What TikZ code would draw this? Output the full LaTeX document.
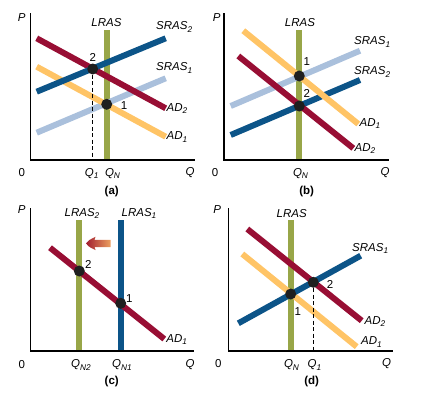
\documentclass[tikz,border=0pt]{standalone}
\usepackage{fontspec}
\setmainfont{Liberation Sans}
\usetikzlibrary{arrows.meta}
\definecolor{lrasg}{RGB}{152,166,72}
\definecolor{dblue}{RGB}{12,84,136}
\definecolor{lblue}{RGB}{170,192,220}
\definecolor{dred}{RGB}{152,14,52}
\definecolor{yel}{RGB}{255,196,102}
\definecolor{arrR}{RGB}{162,30,48}
\definecolor{arrO}{RGB}{236,160,96}
\newcommand{\lsub}[1]{\raisebox{-0.4ex}{\fontsize{8.3}{9}\selectfont #1}}
\tikzset{
  curve/.style={line width=6pt},
  axisline/.style={line width=1.2pt, black},
  eqdot/.style={circle, fill=black!88, minimum size=11pt, inner sep=0pt},
  lab/.style={font=\fontsize{11.5}{13}\selectfont\itshape, inner sep=0pt},
  num/.style={font=\fontsize{11.5}{13}\selectfont, inner sep=0pt},
  paneltitle/.style={font=\fontsize{11.5}{13}\selectfont\bfseries, inner sep=0pt},
  guide/.style={line width=0.8pt, dash pattern=on 4pt off 2.5pt}
}
\begin{document}
\begin{tikzpicture}[x=1pt,y=-1pt]
\useasboundingbox (0,0) rectangle (435,396);
% ================= (a) =================
\coordinate (aT) at (30.7,13.3); \coordinate (aO) at (30.7,160); \coordinate (aR) at (195,160);
\draw[curve, lrasg] (106.7,30) coordinate (aL1) -- (106.7,160) coordinate (aL2);
\draw[curve, lblue] (36.7,132.7) coordinate (aS1a) -- (165.7,78.3) coordinate (aS1b);
\draw[curve, yel] (36.7,66.7) coordinate (aD1a) -- (165.7,136.7) coordinate (aD1b);
\draw[curve, dred] (36.7,38.3) coordinate (aD2a) -- (165.7,108.3) coordinate (aD2b);
\draw[curve, dblue] (36.7,91.7) coordinate (aS2a) -- (165.7,38.3) coordinate (aS2b);
\draw[axisline] (aT) -- (aO) -- (aR);
\node[eqdot] (a2) at (92.7,69) {};
\node[eqdot] (a1) at (106.7,104.3) {};
\coordinate (aQ1) at (92.7,160);
\draw[guide] (a2) -- (aQ1);
\node[lab] (aP) at (21.7,18) {P};
\node[lab] (aLR) at (106.5,22.7) {LRAS};
\node[lab, anchor=west] (aS2l) at (156,27) {SRAS\lsub{2}};
\node[lab, anchor=west] (aS1l) at (156,68) {SRAS\lsub{1}};
\node[lab, anchor=west] (aD2l) at (166.5,108.5) {AD\lsub{2}};
\node[lab, anchor=west] (aD1l) at (166.5,137) {AD\lsub{1}};
\node[num] (a2n) at (92.7,57) {2};
\node[num] (a1n) at (124,105.5) {1};
\node[num] (a0) at (21.7,173) {0};
\node[lab] (aq1) at (91.7,173.5) {Q\lsub{1}};
\node[lab] (aqn) at (112.5,173.5) {Q\lsub{N}};
\node[lab] (aq) at (190,173) {Q};
\node[paneltitle] (acap) at (111.7,191.7) {(a)};
% ================= (b) =================
\coordinate (bT) at (224,13.3); \coordinate (bO) at (224,160); \coordinate (bR) at (389,160);
\draw[curve, lrasg] (299.3,30) coordinate (bL1) -- (299.3,160) coordinate (bL2);
\draw[curve, lblue] (230.7,106) coordinate (bS1a) -- (360,50.7) coordinate (bS1b);
\draw[curve, dblue] (230.7,135) coordinate (bS2a) -- (360,80) coordinate (bS2b);
\draw[curve, yel] (243.3,30.7) coordinate (bD1a) -- (358.3,124) coordinate (bD1b);
\draw[curve, dred] (238.3,56) coordinate (bD2a) -- (353.3,148.3) coordinate (bD2b);
\draw[axisline] (bT) -- (bO) -- (bR);
\node[eqdot] (b1) at (299.3,76) {};
\node[eqdot] (b2) at (299.3,106) {};
\node[lab] (bP) at (216.7,18) {P};
\node[lab] (bLR) at (300,22.7) {LRAS};
\node[lab, anchor=west] (bS1l) at (354,42) {SRAS\lsub{1}};
\node[lab, anchor=west] (bS2l) at (354,72) {SRAS\lsub{2}};
\node[lab, anchor=west] (bD1l) at (359.5,123.5) {AD\lsub{1}};
\node[lab, anchor=west] (bD2l) at (354.5,148.5) {AD\lsub{2}};
\node[num] (b1n) at (306.7,61.7) {1};
\node[num] (b2n) at (306.7,93.3) {2};
\node[num] (b0) at (215,173) {0};
\node[lab] (bqn) at (300.5,173.5) {Q\lsub{N}};
\node[lab] (bq) at (385,173) {Q};
\node[paneltitle] (bcap) at (306.7,191.7) {(b)};
% ================= (c) =================
\coordinate (cT) at (30.7,208.3); \coordinate (cO) at (30.7,351); \coordinate (cR) at (194.3,351);
\draw[curve, lrasg] (79.3,220) coordinate (cL2a) -- (79.3,351) coordinate (cL2b);
\draw[curve, dblue] (120.7,220) coordinate (cL1a) -- (120.7,351) coordinate (cL1b);
\draw[curve, dred] (50,247.7) coordinate (cDa) -- (164.3,339) coordinate (cDb);
\draw[axisline] (cT) -- (cO) -- (cR);
\shade[left color=arrR, right color=arrO]
  (86,243.3) .. controls (89,240) .. (95.5,236.8) -- (94.5,239.8) -- (110.5,239.8)
  -- (110.5,247) -- (94.5,247) -- (95.5,250) .. controls (89,247) .. (86,243.3) -- cycle;
\node[eqdot] (c2) at (79.3,271) {};
\node[eqdot] (c1) at (120.7,303.3) {};
\node[lab] (cP) at (21.7,210) {P};
\node[lab] (cLR2) at (82,213.5) {LRAS\lsub{2}};
\node[lab] (cLR1) at (139,213.5) {LRAS\lsub{1}};
\node[num] (c2n) at (88.3,264) {2};
\node[num] (c1n) at (129.3,298.5) {1};
\node[lab, anchor=west] (cDl) at (166.2,339.5) {AD\lsub{1}};
\node[num] (c0) at (21.7,364.3) {0};
\node[lab] (cqn2) at (81,365) {Q\lsub{N2}};
\node[lab] (cqn1) at (122,365) {Q\lsub{N1}};
\node[lab] (cq) at (190,364.3) {Q};
\node[paneltitle] (ccap) at (111.7,381.7) {(c)};
% ================= (d) =================
\coordinate (dT) at (228.3,208.3); \coordinate (dO) at (228.3,351); \coordinate (dR) at (392.7,351);
\draw[curve, lrasg] (290.7,220) coordinate (dL1) -- (290.7,351) coordinate (dL2);
\draw[curve, yel] (242.3,254) coordinate (dD1a) -- (356.7,346.7) coordinate (dD1b);
\draw[curve, dred] (247.3,229) coordinate (dD2a) -- (361.7,320.7) coordinate (dD2b);
\draw[curve, dblue] (238.3,323.3) coordinate (dSa) -- (360.7,255.7) coordinate (dSb);
\draw[axisline] (dT) -- (dO) -- (dR);
\node[eqdot] (d1) at (290.7,294) {};
\node[eqdot] (d2) at (313.3,282.3) {};
\coordinate (dQ1) at (313.3,351);
\draw[guide] (d2) -- (dQ1);
\node[lab] (dP) at (217.3,210) {P};
\node[lab] (dLR) at (291.7,213.3) {LRAS};
\node[lab, anchor=west] (dSl) at (352,248.5) {SRAS\lsub{1}};
\node[num] (d2n) at (330,284.3) {2};
\node[num] (d1n) at (297.7,311.7) {1};
\node[lab, anchor=west] (dD2l) at (364.5,321.5) {AD\lsub{2}};
\node[lab, anchor=west] (dD1l) at (361,342) {AD\lsub{1}};
\node[num] (d0) at (218.3,363.3) {0};
\node[lab] (dqn) at (291.5,365) {Q\lsub{N}};
\node[lab] (dq1) at (314.5,365) {Q\lsub{1}};
\node[lab] (dq) at (386.7,363.3) {Q};
\node[paneltitle] (dcap) at (311.7,381.7) {(d)};
\end{tikzpicture}
\end{document}
